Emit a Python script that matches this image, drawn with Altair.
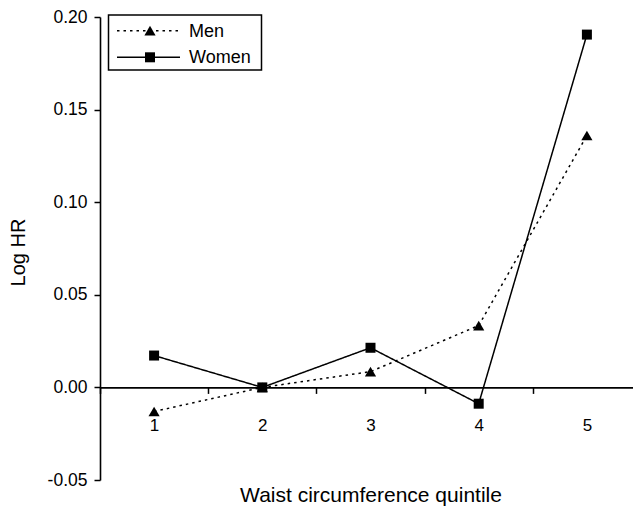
import altair as alt
import pandas as pd

quintiles = ["1", "2", "3", "4", "5"]
men = [-0.013, 0.0, 0.0085, 0.0334, 0.136]
women = [0.0172, 0.0, 0.0214, -0.0088, 0.1905]
series = ["Men", "Women"]
y_ticks = [-0.05, 0.0, 0.05, 0.10, 0.15, 0.20]

rows = []
for q, m, w in zip(quintiles, men, women):
    rows.append({"quintile": q, "sex": "Men", "logHR": m})
    rows.append({"quintile": q, "sex": "Women", "logHR": w})
df = pd.DataFrame(rows)

FONT = "Liberation Sans"

x_enc = alt.X(
    "quintile:O",
    sort=quintiles,
    scale=alt.Scale(paddingInner=0, paddingOuter=0, range=[0, 541]),
    axis=alt.Axis(
        title="Waist circumference quintile",
        titleFontSize=21,
        titleFontWeight="normal",
        titleY=108,
        titleBaseline="middle",
        labelAngle=0,
        labelFontSize=17,
        labelPadding=24,
        labelColor="black",
        domainColor="black",
        domainWidth=1.6,
        tickColor="black",
        tickWidth=1.5,
        tickSize=6,
        tickBand="extent",
        offset=-92.6,
        grid=False,
    ),
)
y_enc = alt.Y(
    "logHR:Q",
    scale=alt.Scale(domain=[-0.05, 0.20], nice=False, zero=False),
    axis=alt.Axis(
        title="Log HR",
        values=y_ticks,
        labelExpr="datum.value < 0 ? '-' + format(-datum.value, '.2f') : format(datum.value, '.2f')",
        titleFontSize=20,
        titleFontWeight="normal",
        titleX=-82,
        titleY=235,
        titleAngle=270,
        titleAlign="center",
        titleBaseline="middle",
        labelFontSize=17.5,
        labelPadding=7,
        labelColor="black",
        domainColor="black",
        domainWidth=1.6,
        tickColor="black",
        tickWidth=1.5,
        tickSize=6,
        grid=False,
    ),
)

base = alt.Chart(df).encode(x=x_enc, y=y_enc)

lines = base.mark_line(color="black", strokeWidth=1.5).encode(
    strokeDash=alt.StrokeDash(
        "sex:N",
        scale=alt.Scale(domain=series, range=[[2.5, 4], [1, 0]]),
        legend=None,
    )
)
points = base.mark_point(filled=True, color="black", opacity=1).encode(
    shape=alt.Shape(
        "sex:N",
        scale=alt.Scale(domain=series, range=["triangle-up", "square"]),
        legend=None,
    ),
    size=alt.Size(
        "sex:N",
        scale=alt.Scale(domain=series, range=[125, 100]),
        legend=None,
    ),
)

dummy = pd.DataFrame({"d": [0]})
legend_box = alt.Chart(dummy).mark_rect(
    fill="white", stroke="black", strokeWidth=1.5
).encode(
    x=alt.value(8.5), x2=alt.value(161.5), y=alt.value(-2), y2=alt.value(53)
)


def legend_row(label, dash, shape, size, ypix):
    line = alt.Chart(dummy).mark_rule(
        color="black", strokeWidth=1.5, strokeDash=dash
    ).encode(x=alt.value(17), x2=alt.value(80), y=alt.value(ypix))
    sym = alt.Chart(dummy).mark_point(
        filled=True, color="black", opacity=1, size=size, shape=shape
    ).encode(x=alt.value(50), y=alt.value(ypix))
    txt = alt.Chart(dummy).mark_text(
        align="left", baseline="middle", fontSize=18, font=FONT, color="black"
    ).encode(x=alt.value(89), y=alt.value(ypix + 1), text=alt.value(label))
    return [line, sym, txt]


legend_layers = legend_row("Men", [2.5, 4], "triangle-up", 125, 13.7) + legend_row(
    "Women", [1, 0], "square", 100, 40.3
)

chart = (
    alt.layer(legend_box, lines, points, *legend_layers)
    .properties(
        width=533,
        height=463,
        autosize=alt.AutoSizeParams(type="none"),
        padding={"left": 92, "top": 9, "right": 0, "bottom": 27},
        background="white",
    )
    .configure_view(stroke=None)
    .configure_axis(labelFont=FONT, titleFont=FONT, titleColor="black")
    .configure_text(font=FONT)
)

chart.save("out.html", embed_options={"renderer": "svg", "actions": False})
